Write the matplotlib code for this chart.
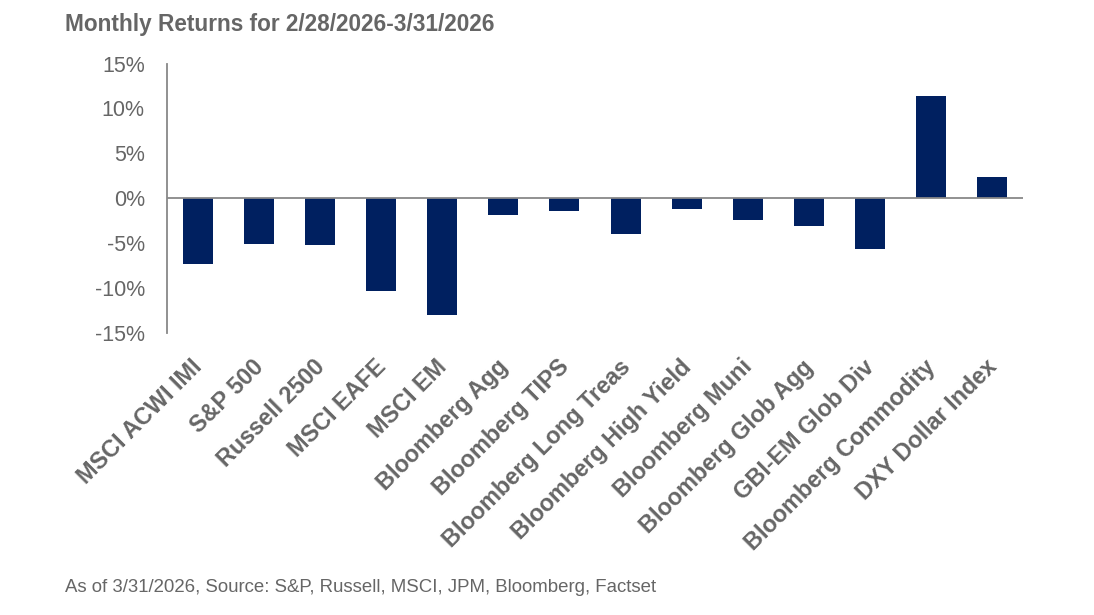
import matplotlib.pyplot as plt
import matplotlib.transforms as mtransforms
from matplotlib.ticker import FuncFormatter

categories = ['MSCI ACWI IMI', 'S&P 500', 'Russell 2500', 'MSCI EAFE', 'MSCI EM',
              'Bloomberg Agg', 'Bloomberg TIPS', 'Bloomberg Long Treas',
              'Bloomberg High Yield', 'Bloomberg Muni', 'Bloomberg Glob Agg',
              'GBI-EM Glob Div', 'Bloomberg Commodity', 'DXY Dollar Index']
returns = [-7.3, -5.1, -5.2, -10.3, -13.0, -1.85, -1.4, -4.0,
           -1.2, -2.4, -3.1, -5.6, 11.4, 2.4]
yticks = [-15, -10, -5, 0, 5, 10, 15]

plt.rcParams['font.family'] = ['Liberation Sans', 'DejaVu Sans']
grey = '#666666'
navy = '#002060'

fig = plt.figure(figsize=(10.94, 6.15), dpi=100)
ax = fig.add_axes([0.1527, 0.4585, 0.7823, 0.4382])

x = range(len(categories))
ax.bar(x, returns, width=0.49, color=navy)
ax.axhline(0, color='#888888', linewidth=1.3)

ax.set_xlim(-0.5, len(categories) - 0.5)
ax.set_ylim(-15, 15)
ax.set_yticks(yticks)
ax.yaxis.set_major_formatter(FuncFormatter(lambda v, p: f'{v:.0f}%'))
ax.set_xticks(list(x))
ax.set_xticklabels(categories, rotation=45, ha='right', rotation_mode='anchor',
                   fontsize=16.8, fontweight='bold', color=grey)
ax.tick_params(axis='y', length=0, pad=16, labelsize=15.5, labelcolor=grey)
ax.tick_params(axis='x', length=0, pad=6)

# nudge rotated labels so they hang like the original
shift = mtransforms.ScaledTranslation(-7 / 100, -14 / 100, fig.dpi_scale_trans)
for lab in ax.get_xticklabels():
    lab.set_transform(lab.get_transform() + shift)

for s in ['top', 'right', 'bottom']:
    ax.spines[s].set_visible(False)
ax.spines['left'].set_color('#888888')
ax.spines['left'].set_linewidth(1.3)

fig.text(0.059, 0.960, 'Monthly Returns for 2/28/2026-3/31/2026', fontsize=16.3,
         fontweight='bold', color=grey, va='center', ha='left')
fig.text(0.059, 0.044, 'As of 3/31/2026, Source: S&P, Russell, MSCI, JPM, Bloomberg, Factset',
         fontsize=13.4, color=grey, va='center', ha='left')

fig.savefig('out.png', dpi=100)
